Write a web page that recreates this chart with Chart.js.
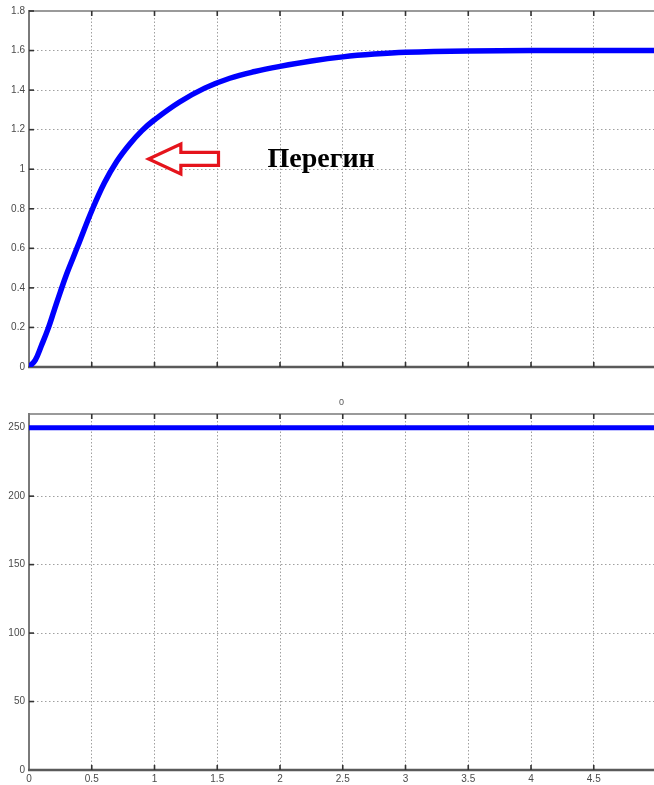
<!DOCTYPE html>
<html>
<head>
<meta charset="utf-8">
<script src="https://cdn.jsdelivr.net/npm/chart.js@4.4.1/dist/chart.umd.min.js"></script>
<style>
  html, body { margin: 0; padding: 0; background: #fff; overflow: hidden; }
  #wrap { position: relative; width: 654px; height: 785px; }
  canvas { position: absolute; left: 0; }
  #topChart { top: 0; }
  #bottomChart { top: 392px; }
</style>
</head>
<body>
<div id="wrap">
  <canvas id="topChart" width="654" height="385"></canvas>
  <canvas id="bottomChart" width="654" height="393"></canvas>
</div>
<script>
// step response (upper plot)
var timeTop = [0, 0.05, 0.1, 0.15, 0.2, 0.25, 0.3, 0.35, 0.4, 0.5, 0.6, 0.7, 0.8, 0.9, 1.0, 1.2, 1.4, 1.6, 1.8, 2.0, 2.25, 2.5, 2.75, 3.0, 3.5, 4.0, 5.0];
var outputTop = [0, 0.035, 0.11, 0.19, 0.285, 0.38, 0.47, 0.55, 0.63, 0.79, 0.93, 1.04, 1.125, 1.195, 1.25, 1.34, 1.41, 1.46, 1.494, 1.52, 1.547, 1.568, 1.582, 1.591, 1.598, 1.6, 1.6];

// constant signal (lower plot)
var timeBottom = [0, 5];
var outputBottom = [250, 250];

var xTicks = [0, 0.5, 1, 1.5, 2, 2.5, 3, 3.5, 4, 4.5];
var yTicksTop = [0, 0.2, 0.4, 0.6, 0.8, 1, 1.2, 1.4, 1.6, 1.8];
var yTicksBottom = [0, 50, 100, 150, 200, 250];
var bottomTitle = '0';
var noteText = 'Перегин';

var xMax = 4.98; // right edge of the axes

// arrow + label on the upper plot, in data units
var note = { tipX: 0.953, headX: 1.21, tailX: 1.51, y: 1.052, textX: 1.9, textY: 1.01 };

function toPoints(xs, ys) {
    var pts = [];
    for (var i = 0; i < xs.length; i++) pts.push({ x: xs[i], y: ys[i] });
    return pts;
}

function fmt(v) { return String(Number(v.toFixed(2))); }

// matlab-ish box: light frame, dark bottom axis, inward tick marks
var axesBox = {
    id: 'axesBox',
    beforeDatasetsDraw: function (chart) {
        var c = chart.ctx, a = chart.chartArea;
        var xs = chart.scales.x, ys = chart.scales.y;
        c.save();
        c.lineCap = 'butt';
        // top edge
        c.strokeStyle = '#9a9a9a';
        c.lineWidth = 2;
        c.beginPath(); c.moveTo(a.left, a.top); c.lineTo(a.right, a.top); c.stroke();
        // left edge
        c.strokeStyle = '#7a7a7a';
        c.beginPath(); c.moveTo(a.left, a.top - 1); c.lineTo(a.left, a.bottom); c.stroke();
        // bottom axis
        c.strokeStyle = '#5a5a5a';
        c.lineWidth = 2.5;
        c.beginPath(); c.moveTo(a.left - 1, a.bottom); c.lineTo(a.right, a.bottom); c.stroke();
        // ticks
        c.strokeStyle = '#333';
        c.lineWidth = 1.6;
        xs.ticks.forEach(function (t) {
            var px = xs.getPixelForValue(t.value);
            if (px <= a.left + 1) return;
            c.beginPath(); c.moveTo(px, a.top); c.lineTo(px, a.top + 5); c.stroke();
            c.beginPath(); c.moveTo(px, a.bottom); c.lineTo(px, a.bottom - 5); c.stroke();
        });
        ys.ticks.forEach(function (t) {
            var py = ys.getPixelForValue(t.value);
            if (py >= a.bottom - 1) return;
            c.beginPath(); c.moveTo(a.left, py); c.lineTo(a.left + 5, py); c.stroke();
        });
        c.restore();
    }
};

// small "0" heading above the lower axes
var smallTitle = {
    id: 'smallTitle',
    afterDraw: function (chart) {
        var a = chart.chartArea;
        var c = chart.ctx;
        c.save();
        c.fillStyle = '#555';
        c.font = '9px "Liberation Sans", Arial, sans-serif';
        c.textAlign = 'center';
        c.textBaseline = 'middle';
        c.fillText(bottomTitle, (a.left + a.right) / 2, a.top - 11);
        c.restore();
    }
};

// red hollow arrow and the label
var arrowNote = {
    id: 'arrowNote',
    afterDatasetsDraw: function (chart) {
        var c = chart.ctx, xs = chart.scales.x, ys = chart.scales.y;
        var tip = xs.getPixelForValue(note.tipX);
        var head = xs.getPixelForValue(note.headX);
        var tail = xs.getPixelForValue(note.tailX);
        var cy = ys.getPixelForValue(note.y);
        var hh = 15, sh = 6.5;
        c.save();
        c.beginPath();
        c.moveTo(tip, cy);
        c.lineTo(head, cy - hh);
        c.lineTo(head, cy - sh);
        c.lineTo(tail, cy - sh);
        c.lineTo(tail, cy + sh);
        c.lineTo(head, cy + sh);
        c.lineTo(head, cy + hh);
        c.closePath();
        c.fillStyle = '#fff';
        c.fill();
        c.strokeStyle = '#e5141c';
        c.lineWidth = 3.2;
        c.lineJoin = 'miter';
        c.stroke();

        c.fillStyle = '#000';
        c.font = 'bold 28px "Liberation Serif", "Times New Roman", serif';
        c.textAlign = 'left';
        c.textBaseline = 'alphabetic';
        c.fillText(noteText, xs.getPixelForValue(note.textX), ys.getPixelForValue(note.textY));
        c.restore();
    }
};

var tickFont = { family: '"Liberation Sans", Arial, sans-serif', size: 10 };

function makeOptions(yMin, yMax, yTicks, showXLabels, topPad, xAxisHeight) {
    return {
        responsive: false,
        animation: false,
        layout: { padding: { top: topPad, left: 0, right: 0, bottom: 0 } },
        plugins: { legend: { display: false }, tooltip: { enabled: false } },
        scales: {
            x: {
                type: 'linear',
                min: 0,
                max: xMax,
                afterBuildTicks: function (scale) {
                    scale.ticks = xTicks.map(function (v) { return { value: v }; });
                },
                afterFit: function (scale) { scale.height = xAxisHeight; },
                border: { display: false, dash: [1.5, 2] },
                grid: { color: '#a0a0a0', lineWidth: 1, drawTicks: false },
                ticks: {
                    display: showXLabels,
                    color: '#4a4a4a',
                    font: tickFont,
                    padding: 3,
                    maxRotation: 0,
                    callback: function (v) { return fmt(v); }
                }
            },
            y: {
                min: yMin,
                max: yMax,
                afterBuildTicks: function (scale) {
                    scale.ticks = yTicks.map(function (v) { return { value: v }; });
                },
                afterFit: function (scale) { scale.width = 29; },
                border: { display: false, dash: [1.5, 2.5] },
                grid: { color: '#a0a0a0', lineWidth: 1, drawTicks: false },
                ticks: {
                    color: '#4a4a4a',
                    font: tickFont,
                    padding: 4,
                    callback: function (v) { return fmt(v); }
                }
            }
        }
    };
}

var topChart = new Chart(document.getElementById('topChart'), {
    type: 'line',
    data: {
        datasets: [{
            data: toPoints(timeTop, outputTop),
            borderColor: '#0000ff',
            borderWidth: 5.5,
            pointRadius: 0,
            tension: 0.4,
            fill: false
        }]
    },
    options: makeOptions(0, 1.8, yTicksTop, false, 11, 18),
    plugins: [axesBox, arrowNote]
});

var bottomChart = new Chart(document.getElementById('bottomChart'), {
    type: 'line',
    data: {
        datasets: [{
            data: toPoints(timeBottom, outputBottom),
            borderColor: '#0000ff',
            borderWidth: 5,
            pointRadius: 0,
            fill: false
        }]
    },
    options: makeOptions(0, 260, yTicksBottom, true, 22, 15),
    plugins: [axesBox, smallTitle]
});
</script>
</body>
</html>
